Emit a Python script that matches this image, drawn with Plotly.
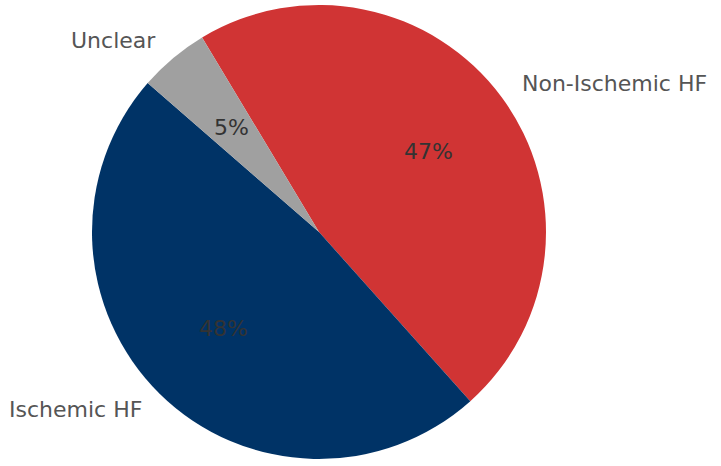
import numpy as np
import plotly.graph_objects as go

# Heart-failure aetiology breakdown
categories = ["Non-Ischemic HF", "Ischemic HF", "Unclear"]
shares = [47, 48, 5]
colors = ["#D03434", "#003366", "#A0A0A0"]

W, H = 721, 466
start_deg = -31.0          # first slice starts 31 deg left of 12 o'clock, runs clockwise
cx_px, cy_px, r_px = 319.0, 232.0, 227.0
label_dist, pct_dist = 1.1, 0.6
font = "DejaVu Sans"
fsize = 22

fig = go.Figure(go.Pie(
    labels=categories,
    values=shares,
    sort=False,
    direction="clockwise",
    rotation=start_deg,
    marker=dict(colors=colors, line=dict(width=0)),
    textinfo="none",
    hoverinfo="label+percent",
    showlegend=False,
    domain=dict(x=[(cx_px - r_px) / W, (cx_px + r_px) / W],
                y=[1 - (cy_px + r_px) / H, 1 - (cy_px - r_px) / H]),
))

# Place category names and percentages at the slice mid-angles
vals = np.array(shares, dtype=float)
fr = vals / vals.sum()
cum = np.concatenate([[0.0], np.cumsum(fr)[:-1]])
mid = np.radians(start_deg + 360.0 * (cum + fr / 2))

annotations = []
for name, f, a in zip(categories, fr, mid):
    sx, sy = np.sin(a), np.cos(a)
    # category name outside the pie
    lx = cx_px + label_dist * r_px * sx
    ly = cy_px - label_dist * r_px * sy
    annotations.append(dict(
        x=lx / W, y=1 - ly / H, xref="paper", yref="paper",
        text=name, showarrow=False,
        xanchor="left" if sx > 0 else "right", yanchor="middle",
        font=dict(family=font, size=fsize, color="#555555"),
    ))
    # percentage inside the slice
    px = cx_px + pct_dist * r_px * sx
    py = cy_px - pct_dist * r_px * sy
    annotations.append(dict(
        x=px / W, y=1 - py / H, xref="paper", yref="paper",
        text=f"{round(f * 100):.0f}%", showarrow=False,
        xanchor="center", yanchor="middle",
        font=dict(family=font, size=fsize, color="#333333"),
    ))

fig.update_layout(
    width=W, height=H,
    margin=dict(l=0, r=0, t=0, b=0),
    paper_bgcolor="white", plot_bgcolor="white",
    annotations=annotations,
)

fig.write_html("out.html")
